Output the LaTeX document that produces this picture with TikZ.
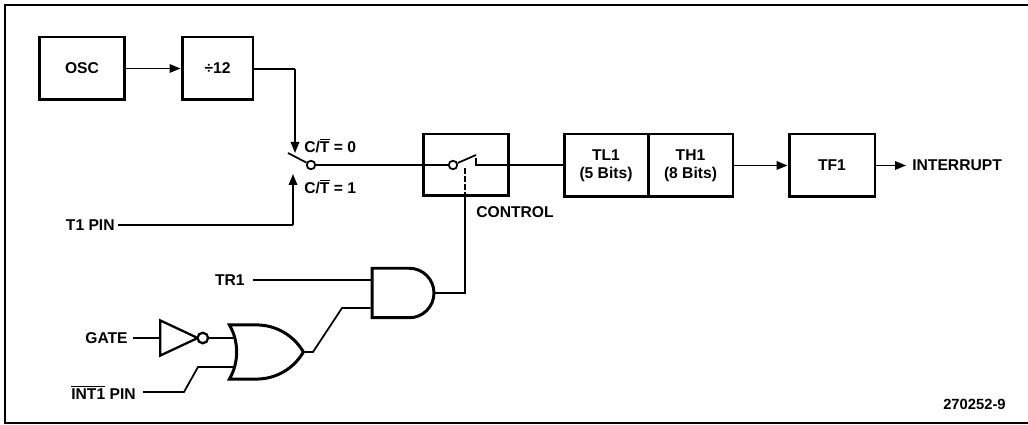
\documentclass[tikz,border=0pt]{standalone}
\usepackage{fontspec}
\setmainfont{Liberation Sans}
\usetikzlibrary{shapes.gates.logic.US,arrows.meta}
\tikzset{
    block/.style={draw,line width=1.7pt,inner sep=0pt,align=center},
    wire/.style={line width=1pt},
    arrow/.style={wire,-{Triangle[length=2.2mm,width=1.7mm]}},
    label/.style={inner sep=0pt,font=\fontsize{8.9}{10}\selectfont\bfseries},
    gate/.style={draw,line width=1.7pt,inner sep=0pt},
    contact/.style={draw,circle,fill=white,line width=1pt,minimum size=0.17cm,inner sep=0pt},
}
\begin{document}
\begin{tikzpicture}[x=0.02cm,y=-0.02cm]
    \useasboundingbox (0,0) rectangle (1028,425);
    \draw[line width=1pt] (1028,5) -- (5,5) -- (5,423) -- (1028,423);

    \node[block,label,minimum width=1.72cm,minimum height=1.26cm] (osc) at (82,68.5) {OSC};
    \node[block,label,minimum width=1.42cm,minimum height=1.26cm] (div) at (217.5,68.5) {÷12};
    \node[block,minimum width=1.7cm,minimum height=1.24cm] (ctrl) at (466,165) {};
    \node[block,label,minimum width=1.68cm,minimum height=1.26cm] (tl) at (606,165.5) {TL1\\(5 Bits)};
    \node[block,label,minimum width=1.7cm,minimum height=1.26cm] (th) at (690.5,165.5) {TH1\\(8 Bits)};
    \node[block,label,minimum width=1.72cm,minimum height=1.26cm] (tf) at (832,165.5) {TF1};

    \node[label,anchor=west] (int) at (912,165.5) {INTERRUPT};
    \node[label,anchor=west] (c0) at (304,146) {C/$\overline{\mbox{T}}$ = 0};
    \node[label,anchor=west] (c1) at (304,187) {C/$\overline{\mbox{T}}$ = 1};
    \node[label,anchor=west] (control) at (476,212) {CONTROL};
    \node[label,anchor=east] (t1pin) at (115,225) {T1 PIN};
    \node[label,anchor=east] (tr1) at (245,280) {TR1};
    \node[label,anchor=east] (gatepin) at (128,338) {GATE};
    \node[label,anchor=east] (intpin) at (136,392) {$\overline{\mbox{INT1}}$ PIN};
    \node[label,anchor=east,font=\fontsize{8.4}{10}\selectfont\bfseries] (num) at (1006,404) {270252-9};

    % connectors
    \coordinate (divturn) at (295,69);
    \coordinate (swatop) at (295,153);
    \coordinate (t1corner) at (293,225);
    \coordinate (swabot) at (293,174);
    \coordinate (intbend) at (184,392);
    \coordinate (intknee) at (198,367);
    \coordinate (orpin) at (234,367);
    \coordinate (orinv) at (234,338);
    \coordinate (orout) at (313,352);
    \coordinate (andknee) at (342,308);
    \coordinate (andturn) at (465,293);
    \coordinate (swatip) at (288,153);
    \coordinate (swbtip) at (476,155);
    \coordinate (swbend) at (476,165);
    \coordinate (swbstub) at (476,158);
    \coordinate (ctrlmid) at (465,167);

    % switches
    \node[contact] (swa) at (311,165) {};
    \node[contact] (swb) at (453,165) {};
    \draw[wire] (swa) -- (swb);
    \draw[wire] (swa) -- (swatip);
    \draw[wire] (swb) -- (swbtip);
    \draw[wire] (swbstub) -- (swbend) -- (tl.west |- swbend);

    % gates
    \node[and gate US,gate,logic gate inputs=nn,logic gate input sep=0.33cm,minimum width=1.1cm] (and) at (401,293) {};
    \node[or gate US,gate,logic gate inputs=nn,logic gate input sep=0.28cm,minimum width=1.48cm] (or) at (261,352) {};
    \node[not gate US,gate,line width=1.3pt,anchor=input,logic gate inverted radius=3pt,minimum height=0.5cm] (inv) at (159,338) {};

    \draw[arrow] (osc.east) -- (div.west);
    \draw[wire] (div.east |- divturn) -- (divturn);
    \draw[arrow] (divturn) -- (swatop);
    \draw[wire,shorten <=0.06cm] (t1pin.east) -- (t1corner);
    \draw[arrow] (t1corner) -- (swabot);
    \draw[arrow] (th.east) -- (tf.west);
    \draw[arrow,shorten >=0.12cm] (tf.east) -- (int.west);
    \draw[wire,shorten <=0.16cm] (tr1.east) -- (and.west |- tr1);
    \draw[wire] (or.output) -- (orout) -- (andknee) -- (and.west |- andknee);
    \draw[wire] (and.output) -- (andturn) -- (ctrl.south -| andturn);
    \draw[wire,dash pattern=on 3pt off 1.5pt] (ctrl.south -| andturn) -- (ctrlmid);
    \draw[wire,shorten <=0.1cm] (gatepin.east) -- (inv.input);
    \draw[wire] (inv.output) -- (orinv);
    \draw[wire,shorten <=0.14cm] (intpin.east) -- (intbend) -- (intknee) -- (orpin);
\end{tikzpicture}
\end{document}
